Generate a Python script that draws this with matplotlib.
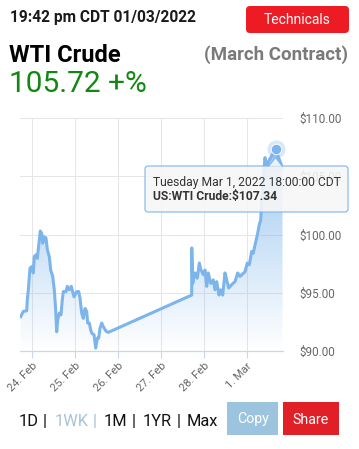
import matplotlib
matplotlib.use("Agg")
import matplotlib.pyplot as plt
import numpy as np
from matplotlib.patches import FancyBboxPatch, Polygon, Rectangle

plt.rcParams['font.family'] = ['Roboto', 'DejaVu Sans']

# =========================================================
# DATA (days since 24 Feb 2022 00:00, price in $)
# =========================================================

days = [-0.256, -0.195, -0.116, -0.102, -0.079, -0.040, 0.000, 0.037, 0.060, 0.100,
        0.130, 0.177, 0.200, 0.233, 0.256, 0.293, 0.333, 0.363, 0.409, 0.442,
        0.488, 0.526, 0.558, 0.581, 0.605, 0.642, 0.681, 0.712, 0.735, 0.798,
        0.828, 0.874, 0.921, 0.984, 1.047, 1.093, 1.123, 1.163, 1.200, 1.240,
        1.279, 1.302, 1.340, 1.372, 1.402, 1.449, 1.488, 1.526, 1.558, 1.588,
        1.628, 1.665, 1.728, 1.781, 3.721, 3.722, 3.744, 3.798, 3.851, 3.898,
        3.937, 3.991, 4.030, 4.070, 4.107, 4.163, 4.223, 4.263, 4.302, 4.356,
        4.395, 4.442, 4.495, 4.535, 4.581, 4.651, 4.728, 4.791, 4.844, 4.960,
        5.014, 5.060, 5.116, 5.153, 5.193, 5.247, 5.293, 5.326, 5.349, 5.372,
        5.402, 5.426, 5.460, 5.495, 5.542, 5.588, 5.674, 5.751, 5.833]

prices = [92.95, 93.40, 93.45, 94.40, 95.25, 97.10, 97.25, 96.70, 98.10, 98.25,
          97.95, 99.55, 100.30, 100.10, 99.25, 99.80, 99.70, 98.70, 98.10, 96.95,
          96.40, 95.25, 93.50, 91.65, 92.65, 93.25, 93.10, 94.40, 95.10, 95.10,
          95.55, 95.25, 95.55, 94.65, 95.10, 95.10, 94.55, 93.25, 92.80, 93.65,
          93.40, 92.40, 92.40, 91.80, 91.50, 91.40, 90.25, 91.10, 91.10, 91.95,
          92.40, 92.10, 91.70, 91.60, 94.80, 98.85, 95.80, 96.70, 96.25, 97.55,
          96.95, 96.55, 96.95, 95.55, 96.70, 95.80, 96.10, 95.25, 95.95, 94.80,
          95.25, 94.80, 96.70, 96.10, 95.40, 95.70, 95.95, 96.70, 96.40, 96.80,
          97.55, 97.40, 98.55, 98.40, 99.10, 99.95, 100.85, 101.25, 103.00, 104.10,
          105.50, 106.60, 105.80, 106.20, 106.50, 106.80, 107.34, 106.50, 105.72]

hover_day = 5.674
hover_price = 107.34

tick_days = [0, 1, 2, 3, 4, 5]
tick_labels = ["24. Feb", "25. Feb", "26. Feb", "27. Feb", "28. Feb", "1. Mar"]
y_ticks = [90, 95, 100, 105, 110]
y_labels = ["$90.00", "$95.00", "$100.00", "$105.00", "$110.00"]

LINE = "#7cb5ec"

# =========================================================
# FIGURE
# =========================================================

W, H = 359, 449
fig = plt.figure(figsize=(W / 100, H / 100), dpi=100)
fig.patch.set_facecolor("white")

# plot area in pixels: x 20..283, y 118..351
ax = fig.add_axes([20 / W, 1 - 351 / H, 263 / W, 233 / H])
ax.set_xlim(-0.272, 5.844)
ax.set_ylim(90, 110)

ax.set_xticks(tick_days)
ax.set_xticklabels(tick_labels, rotation=45, ha="right", rotation_mode="anchor",
                   fontsize=8, color="#666666")
ax.set_yticks(y_ticks)
ax.set_yticklabels(y_labels, fontsize=8.4, color="#666666")
ax.yaxis.tick_right()
ax.tick_params(axis="y", length=0, pad=11.5)
ax.tick_params(axis="x", length=5, width=0.8, color="#ccd6eb", pad=2)
for lbl in ax.get_yticklabels():
    lbl.set_horizontalalignment("left")

ax.grid(True, color="#e6e6e6", linewidth=0.75)
ax.set_axisbelow(True)
for s in ["top", "left", "right"]:
    ax.spines[s].set_visible(False)
ax.spines["bottom"].set_color("#ccd6eb")
ax.spines["bottom"].set_linewidth(0.9)

# gradient area fill under the line
poly = ax.fill_between(days, prices, 90, facecolor="none", edgecolor="none")
grad = np.zeros((256, 1, 4))
grad[:, 0, :3] = matplotlib.colors.to_rgb(LINE)
grad[:, 0, 3] = np.linspace(0.85, 0.0, 256)
im = ax.imshow(grad, extent=[-0.272, 5.844, 90, 110], aspect="auto",
               origin="upper", zorder=1)
im.set_clip_path(poly.get_paths()[0], transform=ax.transData)

ax.plot(days, prices, color=LINE, linewidth=2.2, zorder=3, solid_joinstyle="round")

# hover marker with halo
ax.plot([hover_day], [hover_price], "o", color=LINE, markersize=13, alpha=0.3,
        markeredgewidth=0, zorder=4, clip_on=False)
ax.plot([hover_day], [hover_price], "o", color=LINE, markersize=7.5,
        markeredgecolor="white", markeredgewidth=0.6, zorder=5, clip_on=False)

# =========================================================
# OVERLAY (pixel coordinates) FOR HEADER, TOOLTIP, BUTTONS
# =========================================================

ov = fig.add_axes([0, 0, 1, 1])
ov.set_xlim(0, W)
ov.set_ylim(H, 0)
ov.axis("off")
ov.patch.set_alpha(0)

# header
ov.text(10, 22, "19:42 pm CDT 01/03/2022", fontsize=11.2, fontweight="bold",
        color="#1a1a1a", va="baseline")
ov.add_patch(FancyBboxPatch((246, 6), 103, 27, boxstyle="round,pad=0,rounding_size=4",
                            facecolor="#ed1c24", edgecolor="none"))
ov.text(297.5, 24, "Technicals", fontsize=10, color="white", ha="center", va="baseline")
ov.text(9, 61.5, "WTI Crude", fontsize=17, fontweight="bold", color="black", va="baseline")
ov.text(348, 60, "(March Contract)", fontsize=13.5, fontweight="bold", color="#7a7a7a",
        ha="right", va="baseline")
ov.text(9, 92.5, "105.72 +%", fontsize=21.5, color="#118811", va="baseline")

# tooltip
ov.add_patch(FancyBboxPatch((145, 166), 203, 46, boxstyle="round,pad=0,rounding_size=3",
                            facecolor="#f7f7f7", edgecolor=LINE, linewidth=0.9, alpha=0.88))
ov.add_patch(Polygon([[268.5, 166.5], [275.5, 157.5], [282.5, 166.5]], closed=False,
                     facecolor="#f7f7f7", edgecolor=LINE, linewidth=0.9, alpha=0.88))
ov.text(153, 186, "Tuesday Mar 1, 2022 18:00:00 CDT", fontsize=8.7, color="#333333",
        va="baseline")
ov.text(153, 200, "US:WTI Crude:$107.34", fontsize=8.7, fontweight="bold", color="#333333",
        va="baseline")

# range selector
nav = [(19, "1D", "#111111"), (43, "|", "#111111"), (55, "1WK", "#a7c3d8"),
       (93, "|", "#a7c3d8"), (104, "1M", "#111111"), (132, "|", "#111111"),
       (143, "1YR", "#111111"), (177, "|", "#111111"), (187, "Max", "#111111")]
for x, s, c in nav:
    ov.text(x, 426, s, fontsize=11.8, color=c, va="baseline")

ov.add_patch(Rectangle((227, 402), 51, 33, facecolor="#9dc4df", edgecolor="none"))
ov.text(252.5, 423.5, "Copy", fontsize=10.2, color="white", ha="center", va="baseline")
ov.add_patch(Rectangle((283, 402), 56, 33, facecolor="#e11f26", edgecolor="none"))
ov.text(311, 423.5, "Share", fontsize=10.2, color="white", ha="center", va="baseline")

fig.savefig("out.png", dpi=100)
